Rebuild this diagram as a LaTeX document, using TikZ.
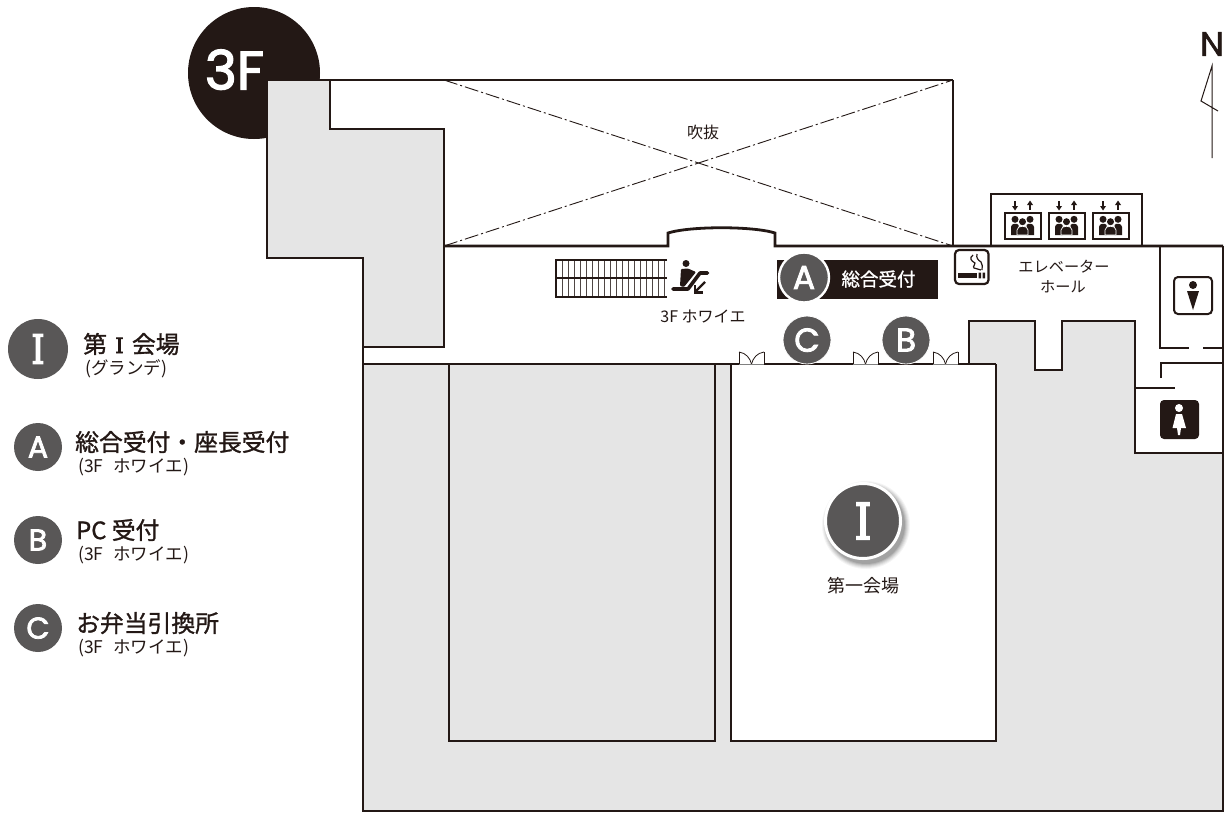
\documentclass[tikz,border=0pt]{standalone}
\usepackage{fontspec}
\setmainfont{Noto Sans CJK JP}
\newfontfamily\jpm[FakeBold=1.2]{Noto Sans CJK JP}
\newfontfamily\ltm[FakeBold=2.5]{Poppins}
\newfontfamily\ltr[FakeBold=1.6]{Poppins}
\newfontfamily\slab[FakeBold=3.5]{DejaVu Serif}
\definecolor{ink}{HTML}{231815}
\definecolor{mark}{HTML}{595757}
\definecolor{blockgrey}{HTML}{E5E5E5}
\newcommand{\fs}[1]{\fontsize{#1}{#1}\selectfont}
\tikzset{
  wall/.style={draw=ink,line width=2.8pt,line join=miter},
  thinwall/.style={draw=ink,line width=2pt},
  lbl/.style={text=ink,inner sep=0pt},
  head/.style={text=ink,inner sep=0pt,anchor=west,font=\jpm\fs{23.8}},
  sub/.style={text=ink,inner sep=0pt,anchor=west,font=\fs{17.5}},
  bignum/.style={circle,fill=mark,text=white,inner sep=0pt,text depth=0pt},
  door/.pic={
    \draw[white,line width=3pt] (0,12) -- (25,12);
    \draw[ink,line width=.8pt] (0,12) -- (0,0) (25,12) -- (25,0);
    \draw[ink,line width=.8pt] (0,0) .. controls (7,1) and (11,6) .. (12.5,12);
    \draw[ink,line width=.8pt] (25,0) .. controls (18,1) and (14,6) .. (12.5,12);
    \draw[gray,line width=.7pt] (0,12) -- (25,12);
  },
  lift/.pic={
    \draw[ink,line width=2pt] (0,0) rectangle (36,26);
    \fill[ink] (10.5,6.3) circle[radius=3.5pt] (25.5,6.3) circle[radius=3.5pt] (18,8.7) circle[radius=3.5pt];
    \fill[ink] (6.5,22) -- (6.5,14) .. controls (6.5,10) and (13,10) .. (14,12) -- (14,22) -- cycle;
    \fill[ink] (29.5,22) -- (29.5,14) .. controls (29.5,10) and (23,10) .. (22,12) -- (22,22) -- cycle;
    \filldraw[ink,draw=white,line width=.7pt] (12.5,22) -- (12.5,17) .. controls (12.5,12) and (23.5,12) .. (23.5,17) -- (23.5,22) -- cycle;
    \draw[ink,line width=1.7pt] (10.5,-12) -- (10.5,-6);
    \fill[ink] (7.5,-7) -- (13.5,-7) -- (10.5,-2.5) -- cycle;
    \draw[ink,line width=1.7pt] (25.5,-8) -- (25.5,-3);
    \fill[ink] (22.5,-8) -- (28.5,-8) -- (25.5,-12.5) -- cycle;
  }
}
\begin{document}
\begin{tikzpicture}[x=1pt,y=-1pt]
\useasboundingbox (0,0) rectangle (1225,812);
\fill[white] (0,0) rectangle (1225,812);
% 3F badge
\node[circle,fill=ink,minimum size=132pt,inner sep=0pt] (badge) at (254,73) {};
\node[text=white,inner sep=0pt,font=\ltm\fs{54},text depth=0pt] (badgetext) at (234.5,69.5) {3F};
% grey blocks
\path[fill=blockgrey] (267,80) -- (330,80) -- (330,129) -- (444,129) -- (444,347) -- (363,347) -- (363,258) -- (267,258) -- cycle;
\path[fill=blockgrey] (363,364) -- (969,364) -- (969,321) -- (1035,321) -- (1035,370) -- (1062,370) -- (1062,321) -- (1135,321) -- (1135,453) -- (1223,453) -- (1223,811) -- (363,811) -- cycle;
\fill[white] (731,364) rectangle (996,741);
% outlines
\draw[wall] (267,80) -- (267,258) -- (363,258) -- (363,811) -- (1223,811) -- (1223,246);
\draw[thinwall] (267,80) -- (953,80);
\draw[wall] (330,80) -- (330,129) -- (444,129) -- (444,347) -- (363,347);
\draw[wall] (953,80) -- (953,246);
\draw[wall] (449,364) -- (449,741) -- (715,741) -- (715,364);
\draw[wall] (731,364) -- (731,741) -- (996,741) -- (996,364);
\draw[wall] (363,364) -- (739,364) (764,364) -- (853,364) (878,364) -- (933,364) (958,364) -- (996,364);
\draw[wall] (969,364) -- (969,321) -- (1035,321) -- (1035,370) -- (1062,370) -- (1062,321) -- (1135,321) -- (1135,453) -- (1223,453);
% north wall with bay
\draw[wall] (444,246) -- (668,246) -- (668,233) .. controls (690,226) and (753,226) .. (775,233) -- (775,246) -- (1223,246);
% atrium
\draw[ink,line width=.9pt,dash pattern=on 14pt off 3pt on 2pt off 3pt] (444,80) -- (953,246);
\draw[ink,line width=.9pt,dash pattern=on 14pt off 3pt on 2pt off 3pt] (444,246) -- (953,80);
% elevator
\draw[wall] (991,246) -- (991,194) -- (1142,194) -- (1142,246);
\pic at (1004.5,213) {lift};
\pic at (1048.5,213) {lift};
\pic at (1092.5,213) {lift};
% toilets
\draw[wall] (1160,246) -- (1160,348) -- (1189,348) (1203,348) -- (1223,348);
\draw[wall] (1161,378) -- (1161,363) -- (1223,363);
\draw[wall] (1135,388) -- (1175,388);
\draw[ink,line width=2pt,rounded corners=4pt] (1174,277) rectangle (1212,314);
\fill[ink] (1193,285) circle[radius=4pt];
\fill[ink] (1187,291) -- (1199,291) -- (1193,310) -- cycle;
\fill[ink,rounded corners=4pt] (1160,400) rectangle (1199,439);
\fill[white] (1179,408) circle[radius=4pt];
\fill[white] (1176,414) -- (1182,414) -- (1186,428) -- (1181,428) -- (1180,435) -- (1178,435) -- (1177,428) -- (1172.5,428) -- cycle;
% smoking
\draw[ink,line width=2.2pt,rounded corners=4pt] (955,250) rectangle (988.5,284);
\fill[ink] (957.5,272.7) rectangle (977,278.3);
\fill[ink] (978.5,272.7) rectangle (981,278.3) (982.5,272.7) rectangle (985,278.3);
\draw[ink,line width=1.2pt] (973,255) .. controls (969,258) and (971,261) .. (975,263) .. controls (976,265) and (972,266) .. (974,268) .. controls (976,269) and (979,269) .. (981,270);
\draw[ink,line width=1.2pt] (977,254) .. controls (976,258) and (978,260) .. (981,262) .. controls (983,264) and (982,267) .. (982,270);
% escalator stairs
\foreach \k in {0,...,18}{\draw[ink!80,line width=.9pt] ({556+6*\k},260) -- ({556+6*\k},297);}
\draw[ink,line width=1.7pt] (667,260) -- (556,260) -- (556,297) -- (667,297) (556,278) -- (667,278);
% escalator icon
\fill[ink] (686,263.5) circle[radius=3.5pt];
\draw[ink,line width=3.6pt,line cap=round,line join=round] (673,289) -- (688,289) -- (700,273) -- (707.5,273);
\fill[ink,rounded corners=1pt] (681,269) -- (688,268.5) -- (696,272) -- (688,282) -- (684,287) -- (680,286) -- cycle;
\draw[ink,line width=2.2pt] (705,282) -- (696,291);
\draw[ink,line width=2.2pt] (695,285) -- (695,292.5) -- (703,292.5);
% doors
\pic at (739,352) {door};
\pic at (853,352) {door};
\pic at (933,352) {door};
% reception
\fill[ink] (777,260) rectangle (938,299);
\node[bignum,draw=white,line width=2.4pt,minimum size=50pt,font=\ltm\fs{33}] (mapA) at (804,277.5) {A};
\node[inner sep=0pt,text=white,font=\jpm\fs{18.5}] (recept) at (878.5,279) {総合受付};
\node[bignum,draw=white,line width=.8pt,minimum size=48pt,font=\ltm\fs{33}] (mapC) at (807,340) {C};
\node[bignum,draw=white,line width=.8pt,minimum size=48pt,font=\ltm\fs{33}] (mapB) at (906,340) {B};
% main hall marker
\foreach \r/\o in {44/.04,43/.05,42/.06,41/.07,40/.09,39/.11}{\fill[black,opacity=\o] (866,525) circle[radius=\r pt];}
\node[bignum,draw=white,line width=3pt,minimum size=75pt] (mapI) at (863,521) {};
\node[text=white,inner sep=0pt,font=\slab\fs{50},xscale=.85,text depth=0pt] (mapIt) at (mapI) {I};
\node[lbl,font=\fs{18}] (hall) at (863,586) {第一会場};
% plain labels
\node[lbl,font=\fs{16}] (atrium) at (703,132) {吹抜};
\node[lbl,font=\fs{16}] (foyer) at (703,316) {3F ホワイエ};
\node[lbl,font=\fs{15.2}] (ev1) at (1064,267) {エレベーター};
\node[lbl,font=\fs{15.2}] (ev2) at (1063,287) {ホール};
% north
\node[text=ink,inner sep=0pt,font=\ltr\fs{34},text depth=0pt] (north) at (1212,44) {N};
\coordinate (ntop) at (1212,66);
\coordinate (nbot) at (1212,158);
\coordinate (nleft) at (1201,101);
\coordinate (nright) at (1218,111);
\draw[ink,line width=1pt] (nbot) -- (ntop) -- (nleft) -- (nright);
% legend
\node[bignum,minimum size=60pt] (legI) at (38,349) {};
\node[text=white,inner sep=0pt,font=\slab\fs{40},xscale=.85,text depth=0pt] (legIt) at (legI) {I};
\node[bignum,minimum size=48pt,font=\ltm\fs{30}] (legA) at (38,447) {A};
\node[bignum,minimum size=48pt,font=\ltm\fs{30}] (legB) at (38,540) {B};
\node[bignum,minimum size=48pt,font=\ltm\fs{30}] (legC) at (38,628) {C};
\node[head] (t1) at (83,344) {第\hspace{3pt} {\slab\fs{21}I}\hspace{3pt} 会場};
\node[sub] (s1) at (85,369) {(グランデ)};
\node[head] (t2) at (75,442) {総合受付・座長受付};
\node[sub] (s2) at (78,467) {(3F\hspace{6pt} ホワイエ)};
\node[head] (t3) at (76,530) {PC 受付};
\node[sub] (s3) at (78,555) {(3F\hspace{6pt} ホワイエ)};
\node[head] (t4) at (76,623) {お弁当引換所};
\node[sub] (s4) at (78,648) {(3F\hspace{6pt} ホワイエ)};
\end{tikzpicture}
\end{document}
